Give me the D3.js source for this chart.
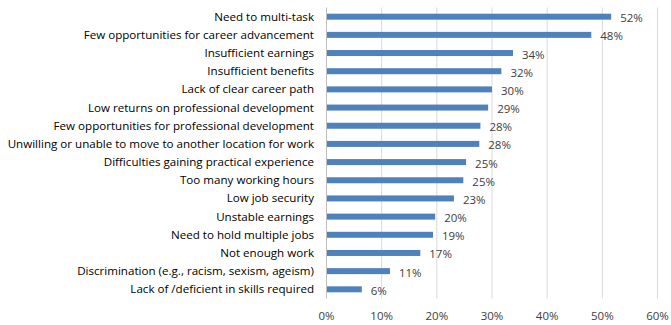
<!DOCTYPE html>
<html><head><meta charset="utf-8">
<script src="https://cdn.jsdelivr.net/npm/d3@7"></script>
<style>body{margin:0;background:#fff;} svg{display:block;}</style>
</head><body>
<svg id="chart" width="671" height="325"></svg>
<script>
const categories = [
  "Need to multi-task",
  "Few opportunities for career advancement",
  "Insufficient earnings",
  "Insufficient benefits",
  "Lack of clear career path",
  "Low returns on professional development",
  "Few opportunities for professional development",
  "Unwilling or unable to move to another location for work",
  "Difficulties gaining practical experience",
  "Too many working hours",
  "Low job security",
  "Unstable earnings",
  "Need to hold multiple jobs",
  "Not enough work",
  "Discrimination (e.g., racism, sexism, ageism)",
  "Lack of /deficient in skills required"
];
const values = [51.6, 48.0, 33.8, 31.7, 30.0, 29.3, 27.9, 27.7, 25.3, 24.8, 23.1, 19.7, 19.3, 17.0, 11.5, 6.4];
const valueLabels = ["52%","48%","34%","32%","30%","29%","28%","28%","25%","25%","23%","20%","19%","17%","11%","6%"];
const ticks = [0,10,20,30,40,50,60];
const tickLabels = ["0%","10%","20%","30%","40%","50%","60%"];

const svg = d3.select("#chart");
const font = "'Open Sans', 'Liberation Sans', sans-serif";
const x = d3.scaleLinear().domain([0,60]).range([326.5, 657.5]);
const y = d3.scaleBand().domain(categories).range([7.6, 298.4]).paddingInner(0.66).paddingOuter(0.33);

// gridlines
svg.append("g").selectAll("line").data(ticks.slice(1)).join("line")
  .attr("x1", d=>x(d)).attr("x2", d=>x(d))
  .attr("y1", 7.5).attr("y2", 298.5)
  .attr("stroke", "#d9d9d9").attr("stroke-width", 1);
// axis line
svg.append("line").attr("x1", x(0)).attr("x2", x(0)).attr("y1", 7.5).attr("y2", 298.5)
  .attr("stroke", "#bfbfbf").attr("stroke-width", 1);

// bars
svg.append("g").selectAll("rect").data(values).join("rect")
  .attr("x", x(0)+0.5)
  .attr("y", (d,i)=>y(categories[i]) + y.bandwidth()/2 - 3)
  .attr("width", d=>x(d)-x(0)-0.5)
  .attr("height", 6)
  .attr("fill", "#4f81bd");

// value labels
svg.append("g").selectAll("text").data(values).join("text")
  .attr("x", d=>x(d)+9)
  .attr("y", (d,i)=>y(categories[i]) + y.bandwidth()/2 + 1.5)
  .attr("dy", "0.35em")
  .attr("font-family", font).attr("font-size", 11.5).attr("fill", "#404040")
  .text((d,i)=>valueLabels[i]);

// category labels
svg.append("g").selectAll("text").data(categories).join("text")
  .attr("x", 314)
  .attr("y", d=>y(d) + y.bandwidth()/2)
  .attr("dy", "0.35em")
  .attr("text-anchor", "end")
  .attr("font-family", font).attr("font-size", 11.6).attr("fill", "#000")
  .text(d=>d);

// tick labels
svg.append("g").selectAll("text").data(ticks).join("text")
  .attr("x", d=>x(d))
  .attr("y", 316)
  .attr("dy", "0.35em")
  .attr("text-anchor", "middle")
  .attr("font-family", font).attr("font-size", 11.5).attr("fill", "#404040")
  .text((d,i)=>tickLabels[i]);
</script>
</body></html>
